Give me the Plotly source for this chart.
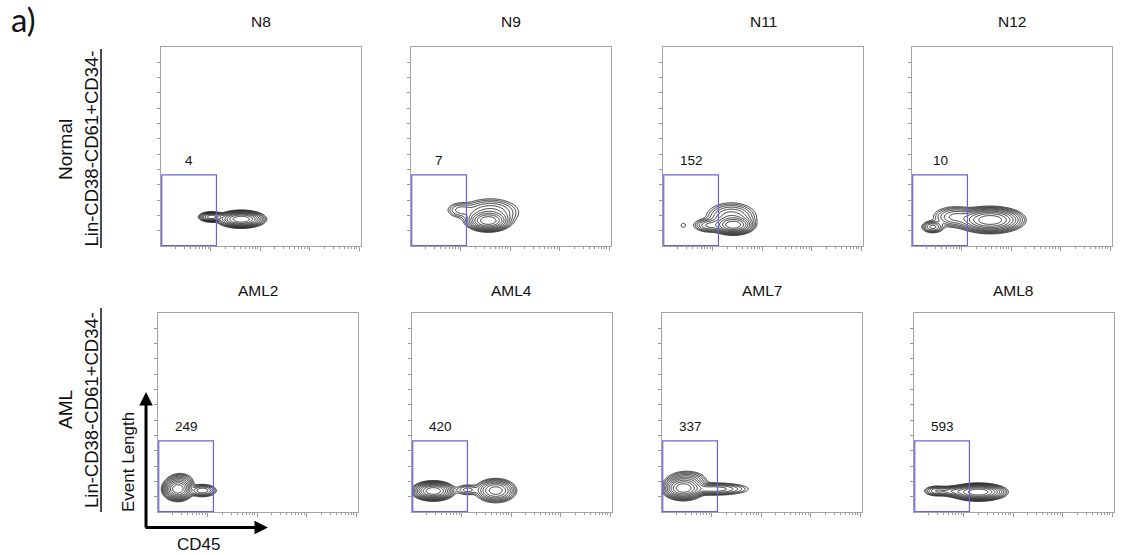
import numpy as np
import plotly.graph_objects as go

W, H = 1122, 555

# ---------------- data ----------------
sample_names = ["N8", "N9", "N11", "N12", "AML2", "AML4", "AML7", "AML8"]
gate_counts = [4, 7, 152, 10, 249, 420, 337, 593]
row_labels = ["Normal", "AML"]
population_label = "Lin-CD38-CD61+CD34-"
x_axis_title = "CD45"
y_axis_title = "Event Length"
panel_letter = "a)"

# gate bounds (x: log10 CD45, y: event length)
gate_x = [1.015, 2.12]
gate_y = [0.6, 93]

# density components (panel index, centre, spread, weight)
comp_panel = [0, 0,
              1, 1, 1,
              2, 2, 2, 2,
              3, 3, 3,
              4, 4, 4,
              5, 5, 5,
              6, 6, 6,
              7, 7, 7]
comp_x = [2.02, 2.62,
          2.56, 2.60, 2.00,
          2.42, 2.38, 1.95, 1.41,
          2.58, 1.88, 1.42,
          1.40, 1.90, 1.45,
          1.43, 2.12, 2.69,
          1.43, 2.05, 1.50,
          2.30, 1.83, 1.47]
comp_y = [38, 35,
          33, 44, 47,
          27.5, 38, 27, 27,
          34, 38, 25,
          30, 28, 40,
          27.5, 29, 28,
          31, 30, 40,
          26, 27, 27.5]
comp_sx = [0.10, 0.17,
           0.16, 0.26, 0.14,
           0.15, 0.22, 0.15, 0.05,
           0.24, 0.20, 0.10,
           0.11, 0.12, 0.12,
           0.15, 0.12, 0.16,
           0.15, 0.30, 0.18,
           0.20, 0.15, 0.12]
comp_sy = [2.6, 4.0,
           5.0, 8.0, 5.0,
           4.5, 8.0, 4.0, 3.0,
           6.0, 6.0, 3.5,
           5.5, 3.5, 5.0,
           4.5, 3.5, 6.0,
           5.5, 3.5, 6.0,
           4.0, 3.0, 3.0]
comp_w = [0.35, 1.0,
          1.0, 0.12, 0.05,
          1.0, 0.15, 0.12, 0.015,
          1.0, 0.12, 0.12,
          1.0, 0.15, 0.08,
          1.0, 0.05, 0.35,
          1.0, 0.15, 0.12,
          1.0, 0.15, 0.10]

x_range = [1.0, 5.04]
y_range = [0, 260]
y_ticks = [20, 40, 60, 80, 100, 120, 140, 160, 180, 200, 220, 240]
x_major = [2, 3, 4, 5]

# ---------------- layout geometry (pixels) ----------------
col_left = [[161, 411, 663, 912], [158, 412, 662, 914]]
row_top = [47, 313]
pw, ph = 200, 199
title_y = [21, 290]


def px(x):
    return x / W


def py(y):
    return 1 - y / H


fig = go.Figure()

xg = np.linspace(1.0, 3.7, 240)
yg = np.linspace(0, 110, 170)
XX, YY = np.meshgrid(xg, yg)

minor_vals = [float(np.log10(k * 10 ** d)) for d in range(1, 5) for k in range(2, 10)]

for i, name in enumerate(sample_names):
    r, c = divmod(i, 4)
    xa = "x" if i == 0 else f"x{i+1}"
    ya = "y" if i == 0 else f"y{i+1}"
    d = np.zeros_like(XX)
    for p, cx, cy, sx, sy, w in zip(comp_panel, comp_x, comp_y, comp_sx, comp_sy, comp_w):
        if p == i:
            d += w * np.exp(-0.5 * (((XX - cx) / sx) ** 2 + ((YY - cy) / sy) ** 2))
    z = np.log10(np.maximum(d / d.max(), 1e-4))
    z = np.round(z, 3)
    fig.add_trace(go.Contour(
        x=xg, y=yg, z=z, xaxis=xa, yaxis=ya,
        contours=dict(coloring="lines", start=-2.0, end=-0.15, size=0.2, showlabels=False),
        line=dict(width=0.9, smoothing=1),
        colorscale=[[0, "#1a1a1a"], [1, "#1a1a1a"]],
        showscale=False, hoverinfo="skip"))

    left = col_left[r][c]
    top = row_top[r]
    xdom = [px(left), px(left + pw)]
    ydom = [py(top + ph), py(top)]
    axis_common = dict(showline=True, mirror=True, linecolor="#a3a3a3", linewidth=1,
                       showgrid=False, zeroline=False, showticklabels=False,
                       ticks="outside", tickcolor="#9a9a9a", fixedrange=True)
    fig.layout[("xaxis" if i == 0 else f"xaxis{i+1}")] = dict(
        domain=xdom, range=x_range, anchor=ya, tickmode="array", tickvals=x_major,
        ticklen=4, tickwidth=1,
        minor=dict(tickmode="array", tickvals=minor_vals, ticks="outside", ticklen=2,
                   tickcolor="#9a9a9a", tickwidth=1),
        **axis_common)
    fig.layout[("yaxis" if i == 0 else f"yaxis{i+1}")] = dict(
        domain=ydom, range=y_range, anchor=xa, tickmode="array", tickvals=y_ticks,
        ticklen=3, tickwidth=1, **axis_common)

    # gate
    fig.add_shape(type="rect", xref=xa, yref=ya, x0=gate_x[0], x1=gate_x[1],
                  y0=gate_y[0], y1=gate_y[1], line=dict(color="#6464d8", width=1.2))
    fig.add_annotation(xref=xa, yref=ya, x=(gate_x[0] + gate_x[1]) / 2, y=gate_y[1] + 19,
                       xanchor="center", yanchor="middle",
                       text=str(gate_counts[i]), showarrow=False,
                       font=dict(size=13.5, color="#111"))
    # title
    fig.add_annotation(xref="paper", yref="paper", x=px(left + pw / 2),
                       y=py(title_y[r]), xanchor="center", yanchor="middle",
                       text=name, showarrow=False,
                       font=dict(size=15.5, color="#111"))

# row labels
row_center = [150, 410]
under_span = [[49, 248], [308, 512]]
for r in range(2):
    fig.add_annotation(xref="paper", yref="paper", x=px(65), y=py(row_center[r]),
                       xanchor="center", yanchor="middle",
                       text=row_labels[r], textangle=-90, showarrow=False,
                       font=dict(size=19, color="#111"))
    fig.add_annotation(xref="paper", yref="paper", x=px(91),
                       y=py((under_span[r][0] + under_span[r][1]) / 2),
                       xanchor="center", yanchor="middle",
                       text=population_label, textangle=-90, showarrow=False,
                       font=dict(size=18.5, color="#111"))
    fig.add_shape(type="line", xref="paper", yref="paper", x0=px(101), x1=px(101),
                  y0=py(under_span[r][0]), y1=py(under_span[r][1]),
                  line=dict(color="#111", width=1.5))

# axis arrows
fig.add_annotation(xref="paper", yref="paper", x=px(146), y=py(392), ax=0, ay=137,
                   showarrow=True, arrowhead=2, arrowsize=0.9, arrowwidth=3,
                   arrowcolor="#000", text="")
fig.add_annotation(xref="paper", yref="paper", x=px(268), y=py(527.5), ax=-124, ay=0,
                   showarrow=True, arrowhead=2, arrowsize=0.9, arrowwidth=3,
                   arrowcolor="#000", text="")
fig.add_annotation(xref="paper", yref="paper", x=px(128), y=py(462),
                   xanchor="center", yanchor="middle",
                   text=y_axis_title, textangle=-90, showarrow=False,
                   font=dict(size=17, color="#111"))
fig.add_annotation(xref="paper", yref="paper", x=px(198), y=py(544),
                   xanchor="center", yanchor="middle",
                   text=x_axis_title, showarrow=False, font=dict(size=17, color="#111"))

fig.add_annotation(xref="paper", yref="paper", x=px(23), y=py(19),
                   xanchor="center", yanchor="middle",
                   text=panel_letter, showarrow=False,
                   font=dict(size=33, color="#111", family="Lato, sans-serif"))

fig.update_layout(width=W, height=H, margin=dict(l=0, r=0, t=0, b=0),
                  paper_bgcolor="white", plot_bgcolor="white", showlegend=False,
                  font=dict(family="Liberation Sans, Arial, sans-serif", color="#111"))

fig.write_html("out.html", config=dict(displayModeBar=False),
               post_script="document.body.style.margin='0px';")
